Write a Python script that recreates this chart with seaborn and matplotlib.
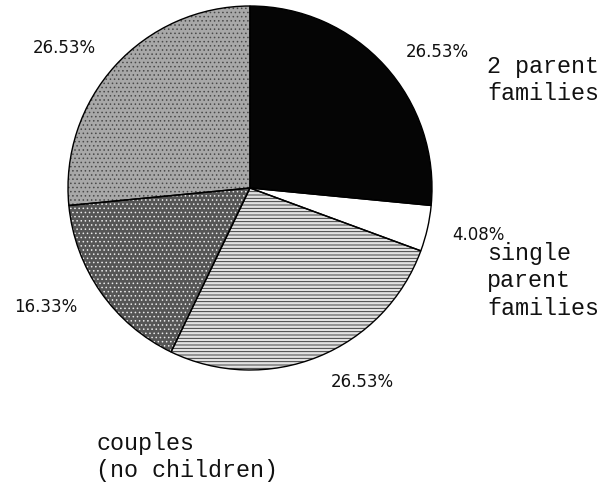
import matplotlib
matplotlib.use("Agg")
import matplotlib.pyplot as plt
import seaborn as sns

# --- data ---
groups = ["2 parent families", "single parent families", "other", "couples (no children)", "other 2"]
shares = [26.53, 4.08, 26.53, 16.33, 26.53]
face_colors = ["#050505", "#ffffff", "#e2e2e2", "#555555", "#a8a8a8"]
hatch_styles = [None, None, "-----", "....", "...."]
hatch_colors = ["#050505", "#ffffff", "#2a2a2a", "#e8e8e8", "#4a4a4a"]

sns.set_theme(style="white")
plt.rcParams["font.family"] = ["DejaVu Sans"]
plt.rcParams["hatch.linewidth"] = 0.6

W, H = 608, 485
fig = plt.figure(figsize=(W / 100, H / 100), dpi=100)
ax = fig.add_axes([0, 0, 1, 1])

cx, cy, r = 250, H - 189, 182

# filled, hatched wedges
wedges, _ = ax.pie(shares, startangle=90, counterclock=False, center=(cx, cy),
                   radius=r, colors=face_colors, frame=True)
for w, h, hc in zip(wedges, hatch_styles, hatch_colors):
    w.set_edgecolor(hc)
    w.set_linewidth(0)
    if h:
        w.set_hatch(h)

# outlines
ax.pie(shares, startangle=90, counterclock=False, center=(cx, cy), radius=r,
       frame=True, wedgeprops=dict(fill=False, edgecolor="black", linewidth=1.0))
ax.set_xlim(0, W)
ax.set_ylim(0, H)
ax.set_aspect("equal")
ax.axis("off")

# percentage labels
pct_pos = [(437, 52), (478, 235), (362, 382), (46, 307), (64, 48)]
for v, (px, py) in zip(shares, pct_pos):
    ax.text(px, H - py, f"{v:.2f}%", fontsize=12, ha="center", va="center",
            color="#111111")

# category labels in typewriter font
mono = dict(family=["Liberation Mono", "DejaVu Sans Mono"], fontsize=16.8,
            color="#111111", ha="left", va="center", linespacing=1.25)
ax.text(487, H - 80, "2 parent\nfamilies", **mono)
ax.text(487, H - 281, "single\nparent\nfamilies", **mono)
ax.text(96, H - 457, "couples\n(no children)", **mono)

fig.savefig("out.png", dpi=100)
